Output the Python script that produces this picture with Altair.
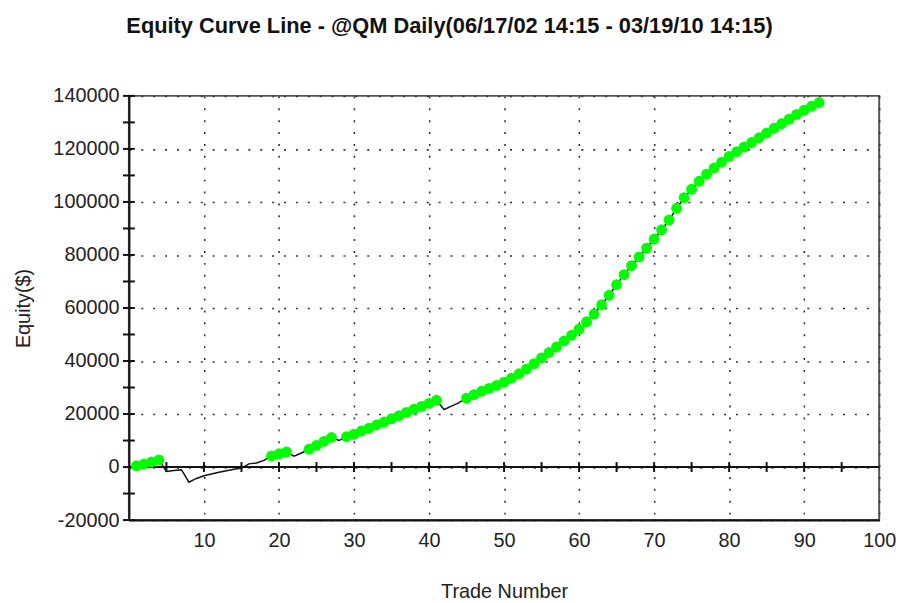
import altair as alt
import pandas as pd

# ---- data ----
trades = list(range(1, 93))
equity = [
    500, 1200, 1900, 2700, -1700, -1300, -1000, -5700, -4300, -3300,
    -2600, -2000, -1400, -800, -400, 1200, 1500, 2500, 4200, 5000,
    5700, 4100, 5300, 6700, 8200, 9700, 11200, 10000, 11500, 12400,
    13600, 14700, 15900, 17000, 18200, 19400, 20600, 21800, 22900, 24000,
    25200, 21700, 23000, 24300, 26000, 27300, 28600, 29700, 30800, 32000,
    33500, 35200, 37000, 39000, 41200, 43200, 45300, 47600, 49700, 52000,
    54800, 57800, 61200, 64800, 68800, 72600, 76000, 79300, 82600, 86000,
    89500, 93200, 97600, 101600, 104800, 107800, 110500, 112800, 115000, 117200,
    119000, 120700, 122400, 124200, 126000, 127800, 129500, 131200, 133000, 134600,
    136100, 137500,
]
x_labels = list(range(10, 101, 10))
y_labels = list(range(-20000, 140001, 20000))
y_ticks = list(range(-20000, 140001, 10000))
x_ticks = list(range(5, 100, 5))

title_text = "Equity Curve Line - @QM Daily(06/17/02 14:15 - 03/19/10 14:15)"

# green markers = trades that set a new equity high
peak = float("-inf")
new_high = []
for v in equity:
    new_high.append(v > peak)
    peak = max(peak, v)

df = pd.DataFrame({"trade": trades, "equity": equity, "new_high": new_high})
pts = df[df["new_high"]]
zero_df = pd.DataFrame({"equity": [0]})
ytick_df = pd.DataFrame({"equity": y_ticks, "trade": [0] * len(y_ticks)})
xtick_df = pd.DataFrame({"trade": x_ticks, "equity": [0] * len(x_ticks)})

font = "Liberation Sans"
xs = alt.Scale(domain=[0, 100], nice=False, zero=False)
ys = alt.Scale(domain=[-20000, 140000], nice=False, zero=False)

x_axis = alt.Axis(
    values=x_labels, grid=True, gridDash=[2, 10], gridColor="#333", gridWidth=1.6,
    ticks=False, domain=True, domainColor="#111", domainWidth=2,
    labelPadding=11, labelFontSize=20, labelColor="#222", labelFont=font,
    labelFlush=False, labelOverlap=False,
    title="Trade Number", titleFont=font, titleFontSize=20, titleFontWeight="normal",
    titleColor="#222", titleY=72, titleBaseline="middle",
)
y_axis = alt.Axis(
    values=y_labels, grid=True, gridDash=[2, 10], gridColor="#333", gridWidth=1.6,
    ticks=False, domain=True, domainColor="#111", domainWidth=2,
    labelExpr="datum.value < 0 ? '-' + format(-datum.value, 'd') : format(datum.value, 'd')",
    labelPadding=10, labelFontSize=20, labelColor="#222", labelFont=font,
    labelFlush=False, labelOverlap=False,
    title="Equity($)", titleFont=font, titleFontSize=20, titleFontWeight="normal",
    titleColor="#222", titleX=-106, titleY=214, titleBaseline="middle",
)

X = alt.X("trade:Q", scale=xs, axis=x_axis)
Y = alt.Y("equity:Q", scale=ys, axis=y_axis)

line = alt.Chart(df).mark_line(color="#111", strokeWidth=1.5).encode(x=X, y=Y)

zero_line = alt.Chart(zero_df).mark_rule(color="#111", strokeWidth=2).encode(y=Y)

y_tick_marks = alt.Chart(ytick_df).mark_rule(
    color="#111", strokeWidth=2, xOffset=-6, x2Offset=6
).encode(y=Y, x=X, x2="trade:Q")

x_tick_marks = alt.Chart(xtick_df).mark_rule(
    color="#111", strokeWidth=2, yOffset=-5, y2Offset=5
).encode(x=X, y=Y, y2="equity:Q")

points = alt.Chart(pts).mark_circle(size=120, color="#00ff00", opacity=1).encode(x=X, y=Y)

chart = alt.layer(line, zero_line, y_tick_marks, x_tick_marks, points).properties(
    width=757,
    height=428,
    background="white",
    autosize=alt.AutoSizeParams(type="none"),
    padding={"left": 122, "top": 86, "right": 20, "bottom": 81},
    title=alt.Title(
        title_text, font=font, fontSize=22, fontWeight="bold", color="#111",
        anchor="middle", dx=-55, offset=48,
    ),
).configure_view(
    stroke="#555", strokeWidth=2
)

chart.save("out.html", embed_options={"renderer": "svg", "actions": False})
